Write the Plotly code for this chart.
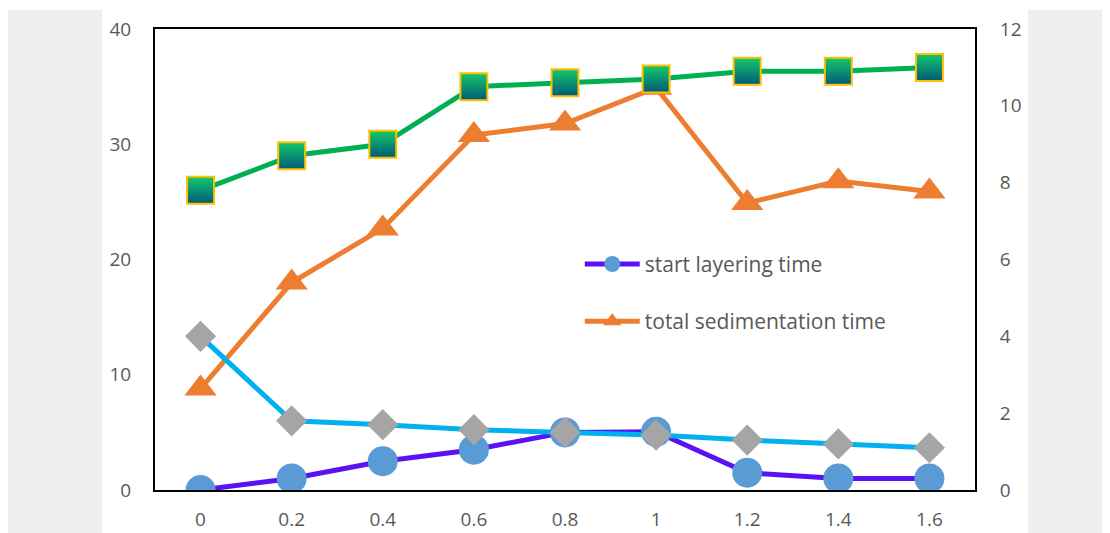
import plotly.graph_objects as go

categories = ["0", "0.2", "0.4", "0.6", "0.8", "1", "1.2", "1.4", "1.6"]
start_layering = [0, 1, 2.5, 3.5, 5, 5.05, 1.5, 1, 1]
total_sedimentation = [8.8, 18, 22.7, 30.8, 31.8, 34.9, 24.9, 26.8, 25.9]
gray_series = [4.0, 1.8, 1.7, 1.57, 1.5, 1.43, 1.3, 1.2, 1.1]
green_series = [7.8, 8.7, 9.0, 10.5, 10.6, 10.7, 10.9, 10.9, 11.0]

left_ticks = [0, 10, 20, 30, 40]
right_ticks = [0, 2, 4, 6, 8, 10, 12]

FONT = "Open Sans"
TICKC = "#595959"

fig = go.Figure()

fig.add_trace(go.Scatter(
    x=categories, y=start_layering, name="start layering time",
    mode="lines+markers", legendgroup="a",
    line=dict(color="#5A12F5", width=5),
    marker=dict(symbol="circle", size=30, color="#5B9BD5"),
))
fig.add_trace(go.Scatter(
    x=categories, y=total_sedimentation, name="total sedimentation time",
    mode="lines+markers", legendgroup="b",
    line=dict(color="#ED7D31", width=5),
    marker=dict(symbol="triangle-up", size=28, color="#ED7D31"),
))
fig.add_trace(go.Scatter(
    x=categories, y=gray_series, name="series 3", yaxis="y2",
    mode="lines+markers", showlegend=False,
    line=dict(color="#00B0F0", width=5),
    marker=dict(symbol="diamond", size=24, color="#A5A5A5"),
))
fig.add_trace(go.Scatter(
    x=categories, y=green_series, name="series 4", yaxis="y2",
    mode="lines+markers", showlegend=False,
    line=dict(color="#00B050", width=5),
    marker=dict(symbol="square", size=27, color="#14C96A",
                gradient=dict(type="vertical", color="#005A78"),
                line=dict(color="#FFC000", width=2)),
))

shapes = [
    dict(type="rect", xref="paper", yref="paper", x0=-0.1805, x1=-0.0646,
         y0=-0.12, y1=1.041, fillcolor="#EFEFEF", line=dict(width=0), layer="below"),
    dict(type="rect", xref="paper", yref="paper", x0=1.0646, x1=1.156,
         y0=-0.12, y1=1.041, fillcolor="#EFEFEF", line=dict(width=0), layer="below"),
]

fig.update_layout(
    width=1110, height=533,
    margin=dict(l=147, r=143, t=21, b=51),
    paper_bgcolor="white", plot_bgcolor="white",
    font=dict(family=FONT, size=19, color=TICKC),
    shapes=shapes,
    xaxis=dict(type="category", range=[-0.5, 8.5], showgrid=False, zeroline=False,
               showline=True, mirror=True, linecolor="black", linewidth=2,
               ticks="outside", ticklen=11, tickcolor="rgba(0,0,0,0)", automargin=False,
               tickfont=dict(family=FONT, size=19, color=TICKC)),
    yaxis=dict(range=[0, 40], tickvals=left_ticks, showgrid=False, zeroline=False,
               showline=True, mirror=True, linecolor="black", linewidth=2,
               ticks="outside", ticklen=18, tickcolor="rgba(0,0,0,0)", automargin=False,
               tickfont=dict(family=FONT, size=19, color=TICKC)),
    yaxis2=dict(range=[0, 12], tickvals=right_ticks, overlaying="y", side="right",
                showgrid=False, zeroline=False, showline=False,
                ticks="outside", ticklen=20, tickcolor="rgba(0,0,0,0)", automargin=False,
                tickfont=dict(family=FONT, size=19, color=TICKC)),
    legend=dict(x=0.518, y=0.534, xanchor="left", yanchor="top",
                bgcolor="rgba(0,0,0,0)", font=dict(family=FONT, size=21, color=TICKC),
                itemwidth=55, tracegroupgap=27, traceorder="grouped"),
)

fig.write_html("out.html")
